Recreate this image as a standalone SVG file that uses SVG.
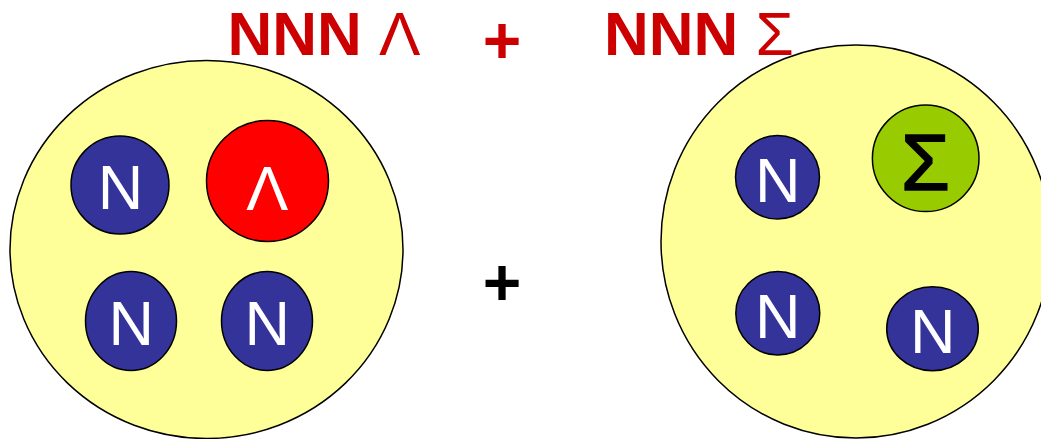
<svg xmlns="http://www.w3.org/2000/svg" width="1041" height="439" viewBox="0 0 1041 439">
<style>
.big{fill:#FFFF99;stroke:#000;stroke-width:1.5}
.n{fill:#333399;stroke:#000;stroke-width:1.5}
.lam{fill:#FF0000;stroke:#000;stroke-width:1.5}
.sig{fill:#99CC00;stroke:#000;stroke-width:1.5}
.lbl{font-family:"Liberation Sans",Arial,sans-serif;font-size:63px;fill:#fff;text-anchor:middle}
.title{font-family:"Liberation Sans",Arial,sans-serif;font-size:62px;font-weight:bold;fill:#CC0000}
.greek{font-weight:normal}
.plus{font-family:"Liberation Sans",Arial,sans-serif;font-size:66px;font-weight:bold;text-anchor:middle}
</style>
<rect width="1041" height="439" fill="#fff"/>
<g id="title">
<text class="title" x="227.5" y="55">NNN <tspan class="greek">Λ</tspan></text>
<text class="plus" x="502" y="63" fill="#CC0000">+</text>
<text class="title" x="604" y="55">NNN <tspan class="greek">Σ</tspan></text>
</g>
<g id="nucleus-lambda">
<ellipse class="big" cx="206.5" cy="249.5" rx="196.5" ry="189"/>
<g id="n1"><ellipse class="n" cx="120" cy="185" rx="49" ry="49"/><text class="lbl" x="120.5" y="209">N</text></g>
<g id="lambda"><ellipse class="lam" cx="267.5" cy="181" rx="61" ry="60.5"/><text class="lbl" x="267.3" y="209.5" font-size="66">Λ</text></g>
<g id="n2"><ellipse class="n" cx="131" cy="321" rx="45.5" ry="49.5"/><text class="lbl" x="131.3" y="345">N</text></g>
<g id="n3"><ellipse class="n" cx="267" cy="321" rx="45.5" ry="49.5"/><text class="lbl" x="267.2" y="345">N</text></g>
</g>
<g id="plus-mid">
<text class="plus" x="502" y="305" fill="#000">+</text>
</g>
<g id="nucleus-sigma">
<ellipse class="big" cx="856" cy="241.5" rx="195" ry="196.5"/>
<g id="n4"><ellipse class="n" cx="777.5" cy="177.3" rx="42" ry="41.7"/><text class="lbl" x="777.8" y="202">N</text></g>
<g id="sigma"><circle class="sig" cx="925.7" cy="158.3" r="53.3"/><text x="925.5" y="190" font-family="'Liberation Sans',Arial,sans-serif" font-size="79" fill="#000" stroke="#000" stroke-width="1.6" text-anchor="middle">Σ</text></g>
<g id="n5"><ellipse class="n" cx="777.8" cy="313.3" rx="42" ry="41.7"/><text class="lbl" x="777.8" y="337.7">N</text></g>
<g id="n6"><ellipse class="n" cx="932.5" cy="328.7" rx="45.8" ry="42"/><text class="lbl" x="932.8" y="352.7">N</text></g>
</g>
<g id="connectors"/>
</svg>
